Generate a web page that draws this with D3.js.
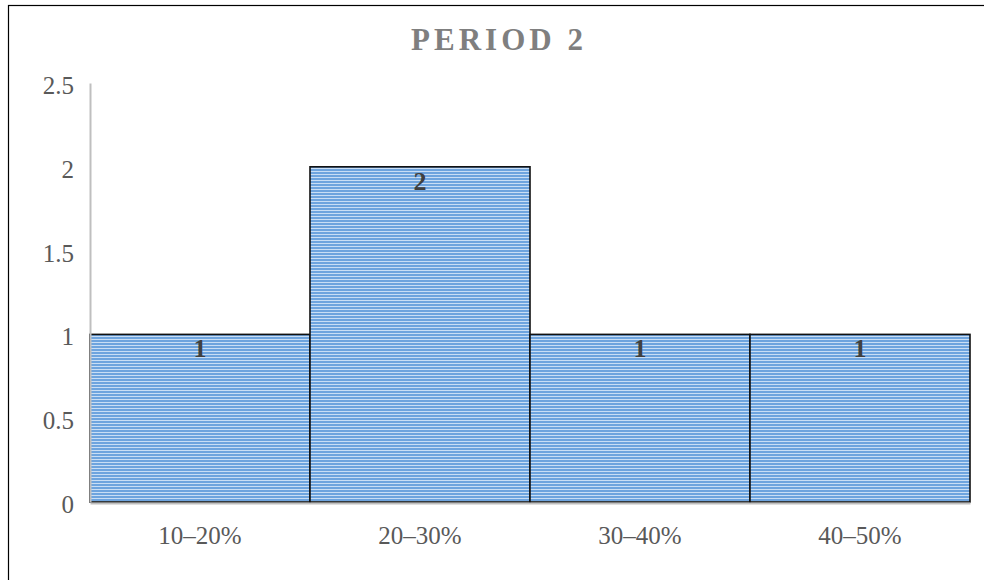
<!DOCTYPE html>
<html>
<head>
<meta charset="utf-8">
<script src="https://cdn.jsdelivr.net/npm/d3@7/dist/d3.min.js"></script>
<style>
  html, body { margin: 0; padding: 0; background: #fff; }
  svg { display: block; }
</style>
</head>
<body>
<svg id="chart" width="984" height="580"></svg>
<script>
// Histogram data: number of cases per range
const categories = ["10–20%", "20–30%", "30–40%", "40–50%"];
const counts = [1, 2, 1, 1];
const yTicks = [0, 0.5, 1, 1.5, 2, 2.5];
const yTickLabels = ["0", "0.5", "1", "1.5", "2", "2.5"];
const title = "PERIOD 2";

const W = 984, H = 580;
const margin = { left: 90, right: 14, top: 83, bottom: 78 };
const svg = d3.select("#chart");

// Outer chart frame
svg.append("rect")
  .attr("x", 8.5).attr("y", 5.5)
  .attr("width", W).attr("height", H)
  .attr("fill", "#fff").attr("stroke", "#000").attr("stroke-width", 1.2);

// Horizontal stripe fill for the bars
const defs = svg.append("defs");
const pat = defs.append("pattern")
  .attr("id", "stripes").attr("patternUnits", "userSpaceOnUse")
  .attr("width", 6).attr("height", 3);
pat.append("rect").attr("width", 6).attr("height", 3).attr("fill", "#6ea4de");
pat.append("rect").attr("width", 6).attr("height", 1).attr("fill", "#c9def5");

const x = d3.scaleBand()
  .domain(categories)
  .range([margin.left, W - margin.right])
  .paddingInner(0).paddingOuter(0);

const y = d3.scaleLinear()
  .domain([0, 2.5])
  .range([H - margin.bottom, margin.top]);

const serif = "'Liberation Serif', 'Times New Roman', serif";

// Title
svg.append("text")
  .attr("x", 499).attr("y", 50)
  .attr("text-anchor", "middle")
  .attr("font-family", serif)
  .attr("font-weight", "bold")
  .attr("font-size", 31)
  .attr("letter-spacing", 4)
  .attr("fill", "#7f7f7f")
  .text(title);

// Bars
svg.append("g").selectAll("rect")
  .data(counts)
  .join("rect")
  .attr("x", (d, i) => x(categories[i]))
  .attr("y", d => y(d))
  .attr("width", x.bandwidth())
  .attr("height", d => y(0) - y(d))
  .attr("fill", "url(#stripes)")
  .attr("stroke", "#111")
  .attr("stroke-width", 1.6);

// Data labels just inside the bar tops
svg.append("g").selectAll("text")
  .data(counts)
  .join("text")
  .attr("x", (d, i) => x(categories[i]) + x.bandwidth() / 2)
  .attr("y", d => y(d) + 23)
  .attr("text-anchor", "middle")
  .attr("font-family", serif)
  .attr("font-weight", "bold")
  .attr("font-size", 26)
  .attr("fill", "#404040")
  .text(d => d);

// Y axis
const yAxis = d3.axisLeft(y)
  .tickValues(yTicks)
  .tickFormat((d, i) => yTickLabels[i])
  .tickSize(0).tickPadding(16);
const gy = svg.append("g")
  .attr("transform", `translate(${margin.left},0)`)
  .call(yAxis);
gy.select(".domain").attr("stroke", "#bfbfbf").attr("stroke-width", 2);
gy.selectAll("text")
  .attr("font-family", serif).attr("font-size", 25).attr("fill", "#595959")
  .attr("dy", "0.42em");

// X axis
const xAxis = d3.axisBottom(x).tickSize(0).tickPadding(23);
const gx = svg.append("g")
  .attr("transform", `translate(0,${y(0) + 1})`)
  .call(xAxis);
gx.select(".domain").attr("stroke", "#bfbfbf").attr("stroke-width", 2);
gx.selectAll("text")
  .attr("font-family", serif).attr("font-size", 25).attr("fill", "#595959");
</script>
</body>
</html>
